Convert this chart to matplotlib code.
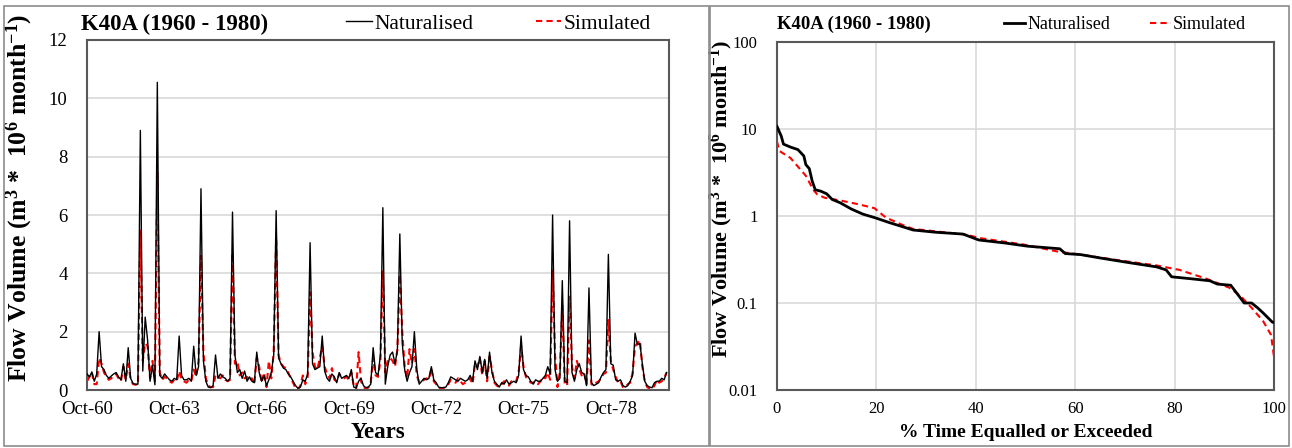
import numpy as np
import matplotlib
matplotlib.use("Agg")
import matplotlib.pyplot as plt
from matplotlib.patches import Rectangle

plt.rcParams['font.family'] = ['Liberation Serif', 'DejaVu Serif']
plt.rcParams['mathtext.fontset'] = 'custom'
plt.rcParams['mathtext.rm'] = 'Liberation Serif:bold'
plt.rcParams['mathtext.it'] = 'Liberation Serif:bold'
plt.rcParams['mathtext.bf'] = 'Liberation Serif:bold'

# ---- data: monthly flow volumes Oct-1960 .. Sep-1980 (m3 * 10^6 / month) ----
naturalised = [
    0.55, 0.45, 0.62, 0.30, 0.55, 2.00, 0.80, 0.70, 0.50, 0.40, 0.48, 0.55,
    0.60, 0.45, 0.35, 0.90, 0.30, 1.45, 0.40, 0.22, 0.20, 0.20, 8.90, 0.65,
    2.50, 1.70, 0.30, 0.85, 0.18, 10.55, 0.50, 0.40, 0.55, 0.45, 0.35, 0.30,
    0.40, 0.35, 1.85, 0.50, 0.35, 0.35, 0.40, 0.30, 1.50, 0.50, 0.80, 6.90,
    1.00, 0.30, 0.10, 0.08, 0.15, 1.20, 0.40, 0.55, 0.45, 0.40, 0.30, 0.40,
    6.10, 1.20, 0.60, 0.70, 0.40, 0.65, 0.30, 0.45, 0.30, 0.25, 1.30, 0.60,
    0.30, 0.50, 0.15, 0.35, 0.60, 1.20, 6.15, 1.10, 0.90, 0.75, 0.70, 0.55,
    0.45, 0.30, 0.15, 0.06, 0.10, 0.35, 0.30, 0.55, 5.05, 0.90, 0.70, 0.75,
    0.80, 1.85, 0.65, 0.40, 0.30, 0.55, 0.45, 0.25, 0.60, 0.40, 0.45, 0.50,
    0.40, 0.70, 0.10, 0.07, 0.30, 0.40, 0.15, 0.08, 0.10, 0.20, 1.45, 0.60,
    0.50, 1.20, 6.25, 0.20, 0.80, 1.20, 1.30, 0.90, 1.35, 5.35, 1.60, 0.70,
    0.30, 0.60, 0.80, 2.00, 0.70, 0.20, 0.30, 0.40, 0.35, 0.40, 0.80, 0.35,
    0.25, 0.10, 0.08, 0.08, 0.10, 0.25, 0.45, 0.40, 0.35, 0.30, 0.40, 0.35,
    0.30, 0.35, 0.50, 0.30, 1.00, 0.70, 1.15, 0.60, 1.05, 0.40, 1.30, 0.60,
    0.30, 0.20, 0.10, 0.25, 0.20, 0.35, 0.20, 0.25, 0.30, 0.25, 0.50, 1.85,
    0.70, 0.50, 0.45, 0.30, 0.20, 0.35, 0.30, 0.30, 0.40, 0.50, 0.80, 0.55,
    6.00, 0.70, 0.30, 0.40, 3.75, 0.30, 0.25, 5.80, 0.60, 0.30, 0.70, 0.90,
    0.60, 0.55, 0.15, 3.50, 0.25, 0.15, 0.20, 0.25, 0.45, 0.60, 0.70, 4.65,
    0.90, 0.85, 0.35, 0.30, 0.35, 0.15, 0.10, 0.15, 0.30, 0.50, 1.95, 1.55,
    1.60, 0.90, 0.30, 0.15, 0.10, 0.08, 0.25, 0.30, 0.30, 0.40, 0.35, 0.60,
]
simulated = [
    0.30, 0.45, 0.60, 0.20, 0.20, 1.10, 0.90, 0.60, 0.45, 0.35, 0.40, 0.50,
    0.55, 0.40, 0.30, 0.80, 0.35, 0.90, 0.35, 0.20, 0.18, 0.18, 5.50, 1.00,
    1.60, 1.50, 0.40, 1.00, 0.30, 7.45, 0.60, 0.35, 0.45, 0.40, 0.30, 0.25,
    0.35, 0.30, 0.65, 0.35, 0.30, 0.25, 0.35, 0.30, 0.70, 0.45, 1.00, 4.60,
    1.30, 0.40, 0.15, 0.10, 0.10, 0.50, 0.45, 0.40, 0.50, 0.35, 0.30, 0.35,
    4.70, 0.90, 1.00, 0.50, 0.60, 0.40, 0.45, 0.30, 0.40, 0.20, 1.10, 0.80,
    0.25, 0.60, 0.10, 1.00, 0.40, 1.30, 5.20, 1.20, 0.90, 0.80, 0.75, 0.60,
    0.40, 0.25, 0.05, 0.02, 0.15, 0.50, 0.20, 0.45, 3.35, 1.30, 0.80, 0.70,
    1.10, 1.50, 0.80, 0.55, 0.40, 0.75, 0.35, 0.30, 0.55, 0.45, 0.40, 0.45,
    0.35, 0.60, 0.15, 0.05, 1.30, 0.30, 0.10, 0.05, 0.08, 0.25, 1.10, 0.50,
    0.45, 1.00, 4.10, 0.60, 1.00, 1.10, 1.00, 0.80, 1.40, 3.95, 2.00, 0.80,
    0.40, 1.40, 0.90, 1.40, 0.50, 0.25, 0.30, 0.35, 0.40, 0.35, 0.75, 0.30,
    0.20, 0.05, 0.05, 0.06, 0.15, 0.20, 0.35, 0.30, 0.25, 0.40, 0.30, 0.20,
    0.25, 0.30, 0.40, 0.20, 0.90, 0.80, 1.10, 0.50, 1.00, 0.30, 1.15, 0.70,
    0.25, 0.15, 0.10, 0.20, 0.30, 0.25, 0.15, 0.30, 0.25, 0.30, 0.60, 1.50,
    0.80, 0.45, 0.35, 0.25, 0.25, 0.30, 0.20, 0.30, 0.45, 0.40, 0.60, 0.35,
    4.10, 1.20, 0.10, 0.60, 2.90, 0.20, 0.15, 3.20, 0.80, 0.40, 1.00, 0.70,
    0.50, 0.60, 0.20, 1.70, 0.20, 0.15, 0.25, 0.30, 0.40, 0.55, 0.60, 2.40,
    1.00, 0.70, 0.45, 0.25, 0.30, 0.10, 0.08, 0.20, 0.25, 0.60, 1.50, 1.60,
    1.70, 0.80, 0.30, 0.10, 0.05, 0.03, 0.15, 0.35, 0.25, 0.30, 0.40, 0.60,
]
x_tick_labels = ["Oct-60", "Oct-63", "Oct-66", "Oct-69", "Oct-72", "Oct-75", "Oct-78"]

# ---- flow duration curves (% time equalled or exceeded, flow volume) ----
fdc_nat_pct = [0, 0.85, 1.3, 2.7, 4.2, 5.4, 5.8, 6.5, 7.1, 7.7, 8.8, 10.0, 11.1, 12.7,
               15.0, 17.3, 19.6, 22.6, 27.4, 32.0, 37.4, 40.6, 45.8, 50.4, 56.9, 58.0,
               61.1, 64.9, 71.0, 76.4, 78.3, 79.4, 83.3, 87.1, 88.6, 91.3, 92.5, 94.0,
               95.5, 96.7, 97.8, 99.7, 100]
fdc_nat_val = [10.7, 8.3, 6.7, 6.2, 5.8, 4.9, 3.9, 3.5, 2.5, 2.0, 1.93, 1.8, 1.55, 1.42,
               1.2, 1.05, 0.96, 0.84, 0.69, 0.65, 0.62, 0.53, 0.49, 0.45, 0.42, 0.37,
               0.36, 0.33, 0.29, 0.26, 0.24, 0.20, 0.19, 0.18, 0.165, 0.16, 0.13, 0.10,
               0.10, 0.088, 0.077, 0.06, 0.06]
fdc_sim_pct = [0, 0.46, 2.7, 4.2, 5.8, 7.3, 8.1, 9.6, 12.7, 16.5, 19.6, 21.9, 25.0, 27.4,
               38.2, 40.6, 49.6, 56.5, 61.1, 68.7, 76.4, 81.0, 86.4, 91.0, 93.3, 95.5,
               97.8, 99.4, 100]
fdc_sim_val = [7.2, 5.6, 4.65, 3.7, 2.9, 2.0, 1.77, 1.62, 1.51, 1.36, 1.23, 0.96, 0.80,
               0.71, 0.61, 0.56, 0.47, 0.39, 0.36, 0.31, 0.27, 0.24, 0.19, 0.15, 0.12,
               0.088, 0.062, 0.043, 0.024]

title = "K40A (1960 - 1980)"
series_names = ["Naturalised", "Simulated"]

W, H = 1292, 448
fig = plt.figure(figsize=(W / 100, H / 100), dpi=100)

def fx(px):
    return px / W

def fy(py):
    return 1 - py / H

spine_c = "#595959"
grid_c = "#d9d9d9"
ylab = "Flow Volume (m$^{3}$ *  10$^{6}$ month$^{-1}$)"

# panel frames
for (x0, x1) in [(4, 709), (710, 1289)]:
    fig.patches.append(Rectangle((fx(x0), fy(446)), fx(x1) - fx(x0), fy(6) - fy(446),
                                 transform=fig.transFigure, fill=False,
                                 edgecolor="#8c8c8c", lw=1.2))

# ---------------- left: time series ----------------
axL = fig.add_axes([fx(87), fy(390), fx(669) - fx(87), fy(40) - fy(390)])
months = np.arange(len(naturalised))
axL.plot(months, naturalised, color="black", lw=1.0, label=series_names[0], zorder=3)
axL.plot(months, simulated, color="#ff0000", lw=1.5, ls=(0, (3, 2)), label=series_names[1], zorder=2)
axL.set_xlim(0, 240)
axL.set_ylim(0, 12)
axL.set_yticks(np.arange(0, 13, 2))
axL.set_xticks(np.arange(0, 240, 36))
axL.set_xticklabels(x_tick_labels)
axL.yaxis.grid(True, color=grid_c, lw=1.2)
axL.set_axisbelow(True)
axL.tick_params(axis="both", labelsize=13.5, length=0, pad=14, colors="black")
axL.tick_params(axis="x", pad=8)
for s in axL.spines.values():
    s.set_color(spine_c)
    s.set_linewidth(1.5)
axL.set_xlabel("Years", fontsize=16.5, fontweight="bold")
axL.xaxis.set_label_coords(0.5, -0.09)
axL.set_ylabel(ylab, fontsize=18.5, fontweight="bold")
axL.yaxis.set_label_coords(-0.089, 0.55)
axL.text(-0.01, 1.045, title, transform=axL.transAxes, fontsize=16.5,
         fontweight="bold", ha="left", va="center")
axL.legend(loc="center", bbox_to_anchor=(0.707, 1.046), ncol=2, frameon=False,
           fontsize=15.5, handlelength=1.2, handletextpad=0.1, columnspacing=2.9,
           borderaxespad=0, borderpad=0)

# ---------------- right: flow duration curve ----------------
axR = fig.add_axes([fx(777), fy(390), fx(1274) - fx(777), fy(42) - fy(390)])
axR.plot(fdc_nat_pct, fdc_nat_val, color="black", lw=2.0, label=series_names[0], zorder=3)
axR.plot(fdc_sim_pct, fdc_sim_val, color="#ff0000", lw=1.5, ls=(0, (3, 2)), label=series_names[1], zorder=2)
axR.set_yscale("log")
axR.set_xlim(0, 100)
axR.set_ylim(0.01, 100)
axR.set_xticks(np.arange(0, 101, 20))
axR.set_yticks([0.01, 0.1, 1, 10, 100])
axR.set_yticklabels(["0.01", "0.1", "1", "10", "100"])
axR.minorticks_off()
axR.grid(True, color=grid_c, lw=1.2)
axR.set_axisbelow(True)
axR.tick_params(axis="both", labelsize=12, length=0, pad=14, colors="black")
axR.tick_params(axis="x", pad=8)
for s in axR.spines.values():
    s.set_color(spine_c)
    s.set_linewidth(1.5)
axR.set_xlabel("% Time Equalled or Exceeded", fontsize=14, fontweight="bold")
axR.xaxis.set_label_coords(0.5, -0.098)
axR.set_ylabel(ylab, fontsize=16, fontweight="bold")
axR.yaxis.set_label_coords(-0.084, 0.55)
axR.text(0.0, 1.05, title, transform=axR.transAxes, fontsize=13.5,
         fontweight="bold", ha="left", va="center")
axR.legend(loc="center", bbox_to_anchor=(0.70, 1.05), ncol=2, frameon=False,
           fontsize=13, handlelength=1.2, handletextpad=0.1, columnspacing=2.2,
           borderaxespad=0, borderpad=0)

fig.savefig("out.png", dpi=100)
